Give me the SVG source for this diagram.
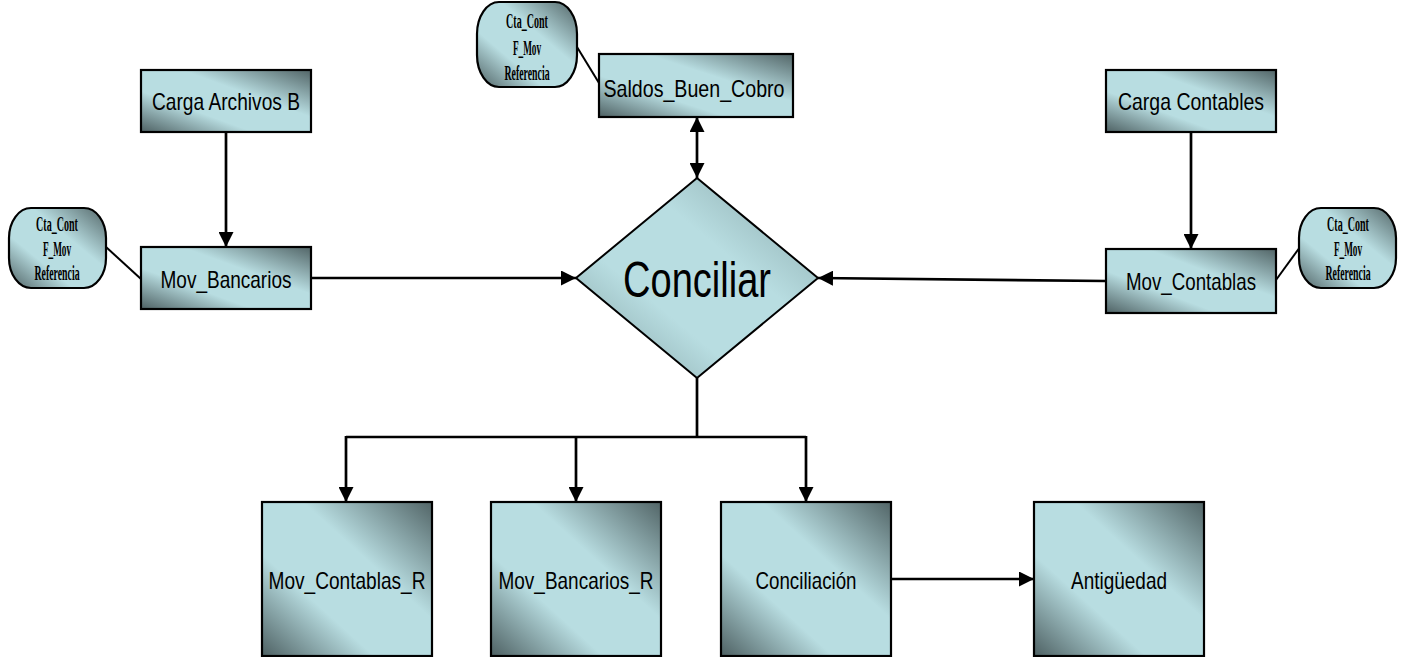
<svg xmlns="http://www.w3.org/2000/svg" width="1408" height="657" viewBox="0 0 1408 657">
  <defs>
    <linearGradient id="boxFill" x1="0" y1="1" x2="1" y2="0">
      <stop offset="0" stop-color="#4e6163"/>
      <stop offset="0.33" stop-color="#b8dde1"/>
      <stop offset="0.62" stop-color="#b8dde1"/>
      <stop offset="1" stop-color="#526567"/>
    </linearGradient>
    <linearGradient id="diamondFill" x1="0" y1="1" x2="1" y2="0">
      <stop offset="0" stop-color="#7e9c9e"/>
      <stop offset="0.35" stop-color="#b8dde1"/>
      <stop offset="0.62" stop-color="#b8dde1"/>
      <stop offset="1" stop-color="#85a3a5"/>
    </linearGradient>
    <marker id="arrow" viewBox="0 0 15 15" refX="15" refY="7.5" markerWidth="15" markerHeight="15" markerUnits="userSpaceOnUse" orient="auto-start-reverse">
      <path d="M0,0 L15,7.5 L0,15 Z" fill="#000"/>
    </marker>
  </defs>
  <style>
    .box { fill: url(#boxFill); stroke: #000; stroke-width: 2.2; }
    .tag { fill: url(#boxFill); stroke: #000; stroke-width: 2.2; }
    .dia { fill: url(#diamondFill); stroke: #000; stroke-width: 2; }
    .lbl { font-family: "Liberation Sans", Arial, sans-serif; font-size: 24px; fill: #000; text-anchor: middle; }
    .big { font-family: "Liberation Sans", Arial, sans-serif; font-size: 50px; fill: #000; text-anchor: middle; }
    .tagt { font-family: "Liberation Serif", "Times New Roman", serif; font-weight: bold; font-size: 21px; fill: #000; text-anchor: middle; }
    .wire { fill: none; stroke: #000; stroke-width: 2.7; }
    .thin { fill: none; stroke: #000; stroke-width: 2; }
    .arr { marker-end: url(#arrow); }
  </style>

  <g id="connectors">
    <!-- feeds into the movement tables -->
    <line class="wire arr" x1="226" y1="132" x2="226" y2="247"/>
    <line class="wire arr" x1="1191" y1="132" x2="1191" y2="249"/>
    <!-- movements into the reconciliation step -->
    <line class="wire arr" x1="311" y1="278" x2="576" y2="278"/>
    <line class="wire arr" x1="1106" y1="281" x2="818" y2="278"/>
    <!-- two-way link with balances -->
    <line class="wire arr" x1="697" y1="117" x2="697" y2="178" marker-start="url(#arrow)"/>
    <!-- outputs -->
    <line class="wire" x1="697" y1="378" x2="697" y2="437"/>
    <line class="wire" x1="346" y1="437" x2="806" y2="437"/>
    <line class="wire arr" x1="346" y1="436" x2="346" y2="502"/>
    <line class="wire arr" x1="576" y1="436" x2="576" y2="502"/>
    <line class="wire arr" x1="806" y1="436" x2="806" y2="502"/>
    <line class="wire arr" x1="891" y1="579" x2="1034" y2="579"/>
    <!-- key field tags -->
    <line class="thin" x1="577" y1="47" x2="599" y2="83"/>
    <line class="thin" x1="106" y1="247" x2="141" y2="279"/>
    <line class="thin" x1="1276" y1="280" x2="1300" y2="247"/>
  </g>

  <g id="carga-archivos-b">
    <rect class="box" x="141" y="70" width="170" height="62"/>
    <text class="lbl" x="226" y="110" textLength="148" lengthAdjust="spacingAndGlyphs">Carga Archivos B</text>
  </g>

  <g id="carga-contables">
    <rect class="box" x="1106" y="70" width="170" height="62"/>
    <text class="lbl" x="1191" y="110" textLength="146" lengthAdjust="spacingAndGlyphs">Carga Contables</text>
  </g>

  <g id="saldos-buen-cobro">
    <rect class="box" x="599" y="54" width="194" height="63"/>
    <text class="lbl" x="694" y="97" textLength="181" lengthAdjust="spacingAndGlyphs">Saldos_Buen_Cobro</text>
  </g>

  <g id="mov-bancarios">
    <rect class="box" x="141" y="247" width="170" height="62"/>
    <text class="lbl" x="226" y="288" textLength="131" lengthAdjust="spacingAndGlyphs">Mov_Bancarios</text>
  </g>

  <g id="mov-contablas">
    <rect class="box" x="1106" y="249" width="170" height="64"/>
    <text class="lbl" x="1191" y="290" textLength="130" lengthAdjust="spacingAndGlyphs">Mov_Contablas</text>
  </g>

  <g id="conciliar">
    <polygon class="dia" points="697,178 818,278 697,378 576,278"/>
    <text class="big" x="697" y="297" textLength="148" lengthAdjust="spacingAndGlyphs">Conciliar</text>
  </g>

  <g id="mov-contablas-r">
    <rect class="box" x="262" y="502" width="170" height="154"/>
    <text class="lbl" x="347" y="589" textLength="157" lengthAdjust="spacingAndGlyphs">Mov_Contablas_R</text>
  </g>

  <g id="mov-bancarios-r">
    <rect class="box" x="491" y="502" width="170" height="154"/>
    <text class="lbl" x="576" y="589" textLength="155" lengthAdjust="spacingAndGlyphs">Mov_Bancarios_R</text>
  </g>

  <g id="conciliacion">
    <rect class="box" x="721" y="502" width="170" height="154"/>
    <text class="lbl" x="806" y="589" textLength="101" lengthAdjust="spacingAndGlyphs">Conciliación</text>
  </g>

  <g id="antiguedad">
    <rect class="box" x="1034" y="502" width="170" height="154"/>
    <text class="lbl" x="1119" y="589" textLength="96" lengthAdjust="spacingAndGlyphs">Antigüedad</text>
  </g>

  <!-- key field tags: condensed serif lines, narrowed by a horizontal scale -->
  <g id="tag-saldos">
    <rect class="tag" x="477" y="2" width="100" height="85" rx="22" ry="32"/>
    <g transform="translate(527,0) scale(0.47,1)">
      <text class="tagt" x="0" y="28" textLength="89" lengthAdjust="spacingAndGlyphs">Cta_Cont</text>
      <text class="tagt" x="0" y="55" textLength="60" lengthAdjust="spacingAndGlyphs">F_Mov</text>
      <text class="tagt" x="0" y="80" textLength="96" lengthAdjust="spacingAndGlyphs">Referencia</text>
    </g>
  </g>

  <g id="tag-bancarios">
    <rect class="tag" x="9" y="208" width="97" height="80" rx="22" ry="30"/>
    <g transform="translate(57,0) scale(0.47,1)">
      <text class="tagt" x="0" y="231" textLength="89" lengthAdjust="spacingAndGlyphs">Cta_Cont</text>
      <text class="tagt" x="0" y="256" textLength="60" lengthAdjust="spacingAndGlyphs">F_Mov</text>
      <text class="tagt" x="0" y="280" textLength="96" lengthAdjust="spacingAndGlyphs">Referencia</text>
    </g>
  </g>

  <g id="tag-contablas">
    <rect class="tag" x="1299" y="208" width="97" height="80" rx="22" ry="30"/>
    <g transform="translate(1348,0) scale(0.47,1)">
      <text class="tagt" x="0" y="231" textLength="89" lengthAdjust="spacingAndGlyphs">Cta_Cont</text>
      <text class="tagt" x="0" y="256" textLength="60" lengthAdjust="spacingAndGlyphs">F_Mov</text>
      <text class="tagt" x="0" y="280" textLength="96" lengthAdjust="spacingAndGlyphs">Referencia</text>
    </g>
  </g>
</svg>
